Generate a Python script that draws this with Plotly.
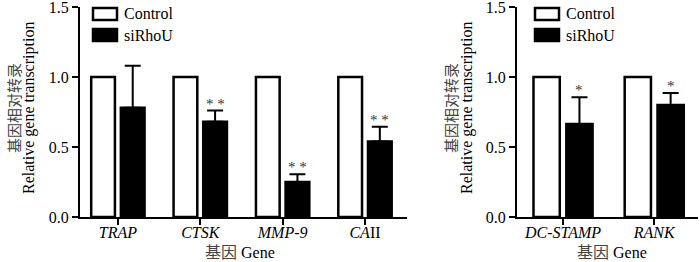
import plotly.graph_objects as go

# ---- data ----
labels_left = ["<i>TRAP</i>", "<i>CTSK</i>", "<i>MMP-9</i>", "<i>CA</i>II"]
control_left = [1.0, 1.0, 1.0, 1.0]
sirhou_left = [0.78, 0.68, 0.25, 0.54]
err_left = [0.30, 0.08, 0.055, 0.105]
sig_left = ["", "* *", "* *", "* *"]

labels_right = ["<i>DC-STAMP</i>", "<i>RANK</i>"]
control_right = [1.0, 1.0]
sirhou_right = [0.665, 0.80]
err_right = [0.19, 0.085]
sig_right = ["*", "*"]

y_ticks = [0.0, 0.5, 1.0, 1.5]
y_ticktext = ["0.0", "0.5", "1.0", "1.5"]

SERIF = "Times New Roman, Liberation Serif, DejaVu Serif, serif"
CJK = "Noto Sans CJK SC"
W, H = 700, 262

fig = go.Figure()

def add_panel(xa, ya, labels, ctrl, sir, err, sig):
    xs = list(range(len(labels)))
    fig.add_trace(go.Bar(x=xs, y=ctrl, name="Control", xaxis=xa, yaxis=ya,
                         marker=dict(color="white", line=dict(color="black", width=2.5)),
                         showlegend=False))
    fig.add_trace(go.Bar(x=xs, y=sir, name="siRhoU", xaxis=xa, yaxis=ya,
                         marker=dict(color="black", line=dict(color="black", width=2.5)),
                         error_y=dict(type="data", symmetric=False, array=err,
                                      arrayminus=[0] * len(err), color="black",
                                      thickness=2, width=8),
                         showlegend=False))
    for i, s in enumerate(sig):
        if s:
            fig.add_annotation(x=xs[i] + 0.18, y=sir[i] + err[i], xref=xa, yref=ya,
                               text=s, showarrow=False, yanchor="bottom", yshift=-3,
                               font=dict(family=SERIF, size=15, color="#333333"))

add_panel("x", "y", labels_left, control_left, sirhou_left, err_left, sig_left)
add_panel("x2", "y2", labels_right, control_right, sirhou_right, err_right, sig_right)

axis_common = dict(showline=True, linecolor="black", linewidth=2, ticks="outside",
                   ticklen=6, tickwidth=2, tickcolor="black", showgrid=False,
                   zeroline=False, automargin=False, ticklabeloverflow="allow",
                   tickfont=dict(family=SERIF, size=16, color="black"))

ydom = [1 - 217 / H, 1 - 7 / H]

fig.update_layout(
    width=W, height=H,
    margin=dict(l=0, r=0, t=0, b=0, pad=0, autoexpand=False),
    plot_bgcolor="white", paper_bgcolor="white",
    bargap=0.28, bargroupgap=0.2, barmode="group",
    xaxis=dict(domain=[80 / W, 407 / W], range=[-0.46, 3.51],
               tickvals=list(range(len(labels_left))), ticktext=labels_left,
               ticklabelstandoff=-6, anchor="y", **axis_common),
    yaxis=dict(domain=ydom, range=[0, 1.5], tickvals=y_ticks, ticktext=y_ticktext,
               anchor="x", **axis_common),
    xaxis2=dict(domain=[517 / W, 698 / W], range=[-0.505, 1.48],
                tickvals=list(range(len(labels_right))), ticktext=labels_right,
                ticklabelstandoff=-6, anchor="y2", **axis_common),
    yaxis2=dict(domain=ydom, range=[0, 1.5], tickvals=y_ticks, ticktext=y_ticktext,
                anchor="x2", **axis_common),
)

# ---- axis titles as annotations (pixel positions converted to paper) ----
def titles(cjk_x, en_x, xcenter):
    ymid = 1 - 108 / H
    fig.add_annotation(xref="paper", yref="paper", x=cjk_x / W, y=ymid, text="基因相对转录",
                       textangle=-90, showarrow=False, xanchor="center", yanchor="middle",
                       font=dict(family=CJK, size=15, color="#444444"))
    fig.add_annotation(xref="paper", yref="paper", x=en_x / W, y=ymid,
                       text="Relative gene transcription",
                       textangle=-90, showarrow=False, xanchor="center", yanchor="middle",
                       font=dict(family=SERIF, size=16, color="black"))
    fig.add_annotation(xref="paper", yref="paper", x=xcenter / W, y=1 - 251 / H,
                       text="<span style='font-family:Noto Sans CJK SC;color:#444444'>基因</span> Gene",
                       showarrow=False, xanchor="center", yanchor="middle",
                       font=dict(family=SERIF, size=16, color="black"))

titles(13, 29, 240)
titles(450, 467, 612)

# ---- legends drawn as shapes ----
def legend(x0px):
    for j, (name, fill) in enumerate([("Control", "white"), ("siRhoU", "black")]):
        yc = 14 + 21 * j
        fig.add_shape(type="rect", xref="paper", yref="paper",
                      x0=x0px / W, x1=(x0px + 24) / W,
                      y0=1 - (yc + 6) / H, y1=1 - (yc - 6) / H,
                      line=dict(color="black", width=2.5), fillcolor=fill)
        fig.add_annotation(xref="paper", yref="paper", x=(x0px + 29) / W, y=1 - yc / H,
                           text=name, showarrow=False, xanchor="left", yanchor="middle",
                           font=dict(family=SERIF, size=16, color="black"))

legend(93)
legend(535)

fig.write_html("out.html", config={"displayModeBar": False},
               post_script="document.body.style.margin='0px';")
